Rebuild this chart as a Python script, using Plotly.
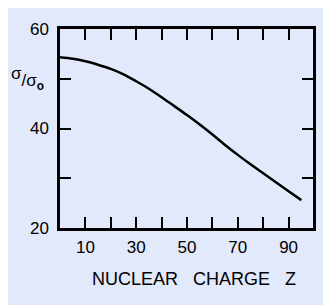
import plotly.graph_objects as go

# Data
z_values = [0, 5, 10, 15, 20, 25, 30, 35, 40, 45, 50, 55, 60, 65, 70, 75, 80, 85, 90, 95]
ratio_values = [54.3, 54.0, 53.5, 52.8, 52.0, 50.9, 49.5, 48.0, 46.3, 44.5,
                42.7, 40.8, 38.8, 36.7, 34.7, 32.8, 31.0, 29.2, 27.4, 25.6]
x_tickvals = [10, 30, 50, 70, 90]
x_ticktext = ["10", "30", "50", "70", "90"]
x_minor_tickvals = [20, 40, 60, 80]
y_tickvals = [20, 40, 60]
y_ticktext = ["20", "40", "60"]
y_minor_tickvals = [30, 50]

# page has an 8px body margin; work in figure pixels
OFF = 8
W, H = 331 - OFF, 305 - OFF
L, R, T, B = 60 - OFF, 313 - OFF, 22 - OFF, 228 - OFF
BG = "#e2e9fb"
FONT = "Liberation Sans, Arial, sans-serif"


def px(x):
    return (x - OFF - L) / (R - L)


def py(y):
    return (B - (y - OFF)) / (B - T)


fig = go.Figure()
fig.add_trace(go.Scatter(x=z_values, y=ratio_values, mode="lines",
                         line=dict(color="black", width=2.5, shape="spline", smoothing=0.8),
                         hoverinfo="skip"))

axis_common = dict(showline=True, linecolor="black", linewidth=2.5, mirror="ticks",
                   ticks="inside", ticklen=11, tickwidth=2, tickcolor="black",
                   showgrid=False, zeroline=False,
                   tickfont=dict(family=FONT, size=17, color="black"))
minor_common = dict(ticks="inside", ticklen=11, tickwidth=2, tickcolor="black",
                    showgrid=False)

fig.update_xaxes(range=[0, 99.6], tickmode="array", tickvals=x_tickvals,
                 ticktext=x_ticktext, ticklabelstandoff=2,
                 minor=dict(tickmode="array", tickvals=x_minor_tickvals, **minor_common),
                 **axis_common)
fig.update_yaxes(range=[20, 60], tickmode="array", tickvals=y_tickvals,
                 ticktext=y_ticktext, ticklabelstandoff=5,
                 minor=dict(tickmode="array", tickvals=y_minor_tickvals, **minor_common),
                 **axis_common)

annotations = [
    dict(text="NUCLEAR\u00a0\u00a0\u00a0CHARGE\u00a0\u00a0\u00a0Z", x=px(193.5), y=py(281),
         xref="paper", yref="paper", showarrow=False, xanchor="center", yanchor="middle",
         font=dict(family=FONT, size=18, color="black")),
    dict(text="<sup><span style='font-size:17px'>σ</span></sup>/σ<sub><b>o</b></sub>",
         x=px(27), y=py(73),
         xref="paper", yref="paper", showarrow=False, xanchor="center", yanchor="middle",
         font=dict(family=FONT, size=17, color="black")),
]

fig.update_layout(width=W, height=H, margin=dict(l=L, r=W - R, t=T, b=H - B),
                  paper_bgcolor=BG, plot_bgcolor=BG, showlegend=False,
                  annotations=annotations)

fig.write_html("out.html")
